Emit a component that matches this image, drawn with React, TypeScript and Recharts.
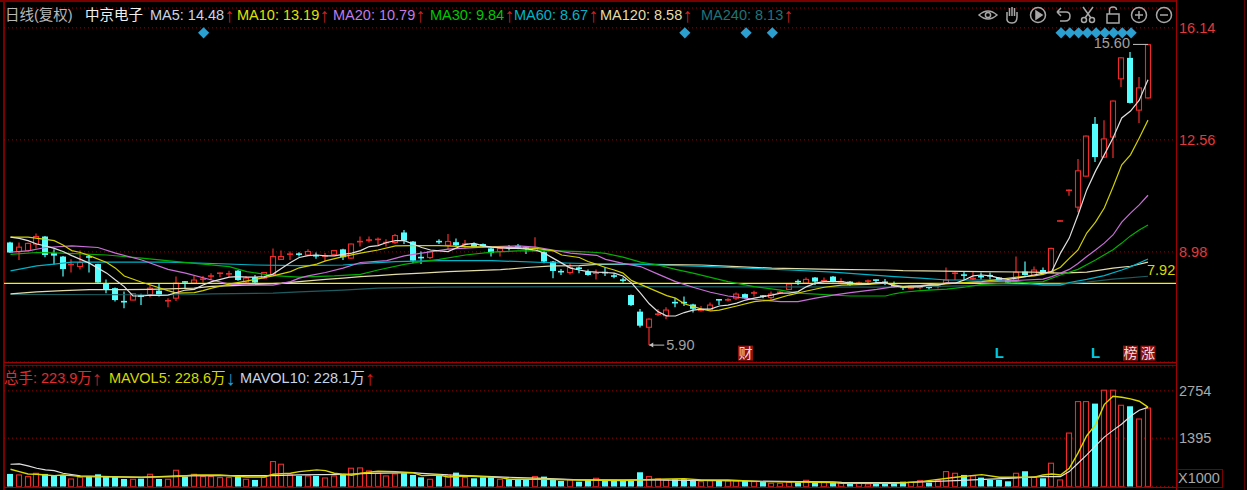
import React from 'react';
import { ComposedChart, Bar, Line, XAxis, YAxis, CartesianGrid, ReferenceLine, ReferenceDot } from 'recharts';

const opens = [9.28,8.99,9.02,9.23,9.47,8.94,8.83,8.57,8.51,8.83,
8.59,7.96,7.82,7.40,7.44,7.58,7.60,7.74,7.39,7.50,
8.03,7.98,8.10,8.20,8.29,8.27,8.38,8.02,8.17,8.14,
8.26,8.74,8.90,8.92,8.88,8.87,8.84,8.90,9.06,8.78,
9.30,9.35,9.37,9.27,9.28,9.60,9.31,8.81,8.80,9.32,
9.19,9.29,9.22,9.23,9.23,9.09,8.99,9.13,9.16,9.11,
9.02,8.97,8.67,8.36,8.32,8.47,8.35,8.29,8.33,8.22,
8.09,7.60,7.07,6.57,6.98,6.94,7.37,7.37,7.30,7.11,
7.12,7.46,7.42,7.50,7.63,7.64,7.58,7.52,7.68,7.78,
8.04,7.98,8.16,8.05,8.19,8.02,8.03,7.97,8.04,8.09,
8.02,7.92,7.86,7.82,7.84,7.86,7.85,7.98,8.29,8.25,
8.12,8.20,8.23,8.16,8.08,8.08,8.35,8.24,8.40,8.30,
9.96,10.94,10.41,11.40,13.07,12.01,12.65,14.51,15.18,13.51,13.90];
const closes = [8.96,9.13,9.25,9.47,8.88,8.86,8.43,8.59,8.64,8.81,
8.00,7.78,7.44,7.38,7.64,7.56,7.82,7.60,7.43,7.98,
7.98,8.08,8.12,8.22,8.31,8.29,8.08,8.14,8.00,8.32,
8.83,8.83,8.92,8.90,8.99,8.85,8.86,9.02,8.81,9.23,
9.32,9.37,9.39,9.29,9.50,9.34,8.70,8.79,8.99,9.30,
9.31,9.19,9.24,9.13,9.15,8.94,9.09,9.11,9.14,9.09,
9.09,8.67,8.37,8.34,8.48,8.45,8.24,8.31,8.31,8.20,
8.07,7.28,6.62,6.83,7.00,7.12,7.35,7.35,7.16,7.13,
7.28,7.44,7.46,7.63,7.50,7.68,7.56,7.63,7.70,7.95,
8.02,8.10,8.03,8.07,8.03,8.04,7.92,7.99,8.06,8.07,
8.00,7.85,7.84,7.89,7.86,7.82,7.89,8.08,8.31,8.23,
8.14,8.18,8.21,8.08,8.00,8.33,8.24,8.40,8.30,9.09,
9.98,10.96,11.57,12.68,12.01,12.59,13.80,15.18,13.74,14.22,15.60];
const highs = [9.30,9.28,9.27,9.57,9.49,9.06,8.85,8.74,9.02,8.88,
8.60,8.10,7.84,7.71,7.65,7.64,7.92,7.98,7.50,8.19,
8.05,8.21,8.21,8.30,8.32,8.38,8.40,8.21,8.24,8.34,
9.09,9.02,8.99,8.97,9.06,8.96,8.94,9.04,9.08,9.25,
9.47,9.47,9.44,9.38,9.55,9.68,9.33,8.99,9.01,9.38,
9.55,9.41,9.36,9.28,9.25,9.11,9.11,9.20,9.23,9.15,
9.45,9.02,8.69,8.43,8.62,8.51,8.42,8.42,8.49,8.30,
8.16,7.62,7.15,6.86,7.15,7.21,7.50,7.55,7.32,7.25,
7.36,7.47,7.50,7.68,7.65,7.74,7.60,7.71,7.73,7.97,
8.10,8.16,8.18,8.16,8.21,8.14,8.05,8.03,8.10,8.10,
8.11,8.03,7.89,7.91,7.92,7.89,7.94,8.48,8.35,8.35,
8.35,8.32,8.32,8.18,8.10,8.83,8.67,8.51,8.48,9.11,
9.99,10.97,11.95,12.70,13.29,13.19,13.82,15.20,15.37,14.57,15.62];
const lows = [8.94,8.72,9.00,9.09,8.81,8.58,8.19,8.32,8.42,8.32,
7.99,7.66,7.39,7.18,7.43,7.28,7.53,7.55,7.21,7.41,
7.82,7.96,8.00,8.08,8.17,8.17,8.06,7.96,7.98,8.12,
8.24,8.72,8.72,8.83,8.86,8.76,8.67,8.88,8.72,8.76,
9.15,9.28,9.20,9.15,9.23,9.23,8.62,8.59,8.74,9.23,
9.06,9.17,9.09,9.11,9.13,8.83,8.83,9.02,9.06,8.91,
9.00,8.62,8.14,8.24,8.26,8.30,8.22,8.10,8.21,8.14,
8.00,7.25,6.56,6.00,6.93,6.83,7.21,7.25,7.04,7.07,
7.09,7.28,7.39,7.44,7.48,7.55,7.50,7.44,7.63,7.76,
7.92,7.96,7.92,8.01,8.01,7.98,7.90,7.92,7.92,7.98,
7.92,7.83,7.76,7.80,7.78,7.78,7.81,7.96,8.08,8.08,
8.08,8.10,8.10,8.06,7.98,8.06,8.22,8.22,8.28,8.28,
9.95,10.77,10.25,11.38,11.85,11.99,11.98,14.25,13.72,13.10,13.88];
const volumes = [366,337,289,385,366,308,318,221,270,289,
356,289,289,221,212,231,356,221,212,472,
289,356,289,289,260,260,299,212,193,270,
722,645,337,308,308,308,250,308,366,530,
539,453,385,308,366,385,337,270,212,337,
337,404,260,241,270,270,212,212,212,212,
289,289,212,164,193,144,193,241,193,193,
164,164,414,289,221,193,212,212,173,144,
173,173,164,164,164,144,144,96,96,125,
125,183,125,125,135,116,116,96,77,96,
96,116,144,125,173,116,173,433,385,337,
308,260,193,193,154,385,443,270,241,674,
193,1541,2446,2446,2388,2773,2773,2340,2311,1945,2260];

const ma5 = [9.45,9.41,9.34,9.23,9.17,9.09,8.99,8.86,8.74,8.62,
8.46,8.30,8.08,7.87,7.57,7.57,7.60,7.59,7.60,7.68,
7.76,7.78,7.92,8.03,8.10,8.17,8.19,8.17,8.17,8.19,
8.27,8.46,8.64,8.80,8.86,8.88,8.85,8.85,8.90,8.94,
9.02,9.15,9.18,9.28,9.34,9.34,9.23,9.12,9.04,9.01,
8.99,9.11,9.22,9.25,9.17,9.13,9.11,9.09,9.09,9.07,
9.04,8.94,8.78,8.62,8.46,8.40,8.35,8.33,8.32,8.30,
8.21,7.98,7.66,7.32,7.07,6.93,6.93,7.04,7.12,7.15,
7.15,7.25,7.28,7.34,7.44,7.50,7.55,7.60,7.66,7.66,
7.71,7.87,7.98,8.03,8.03,8.03,7.98,7.95,7.95,8.00,
8.00,7.89,7.85,7.85,7.87,7.92,7.92,7.98,7.98,8.08,
8.21,8.24,8.21,8.14,8.10,8.14,8.19,8.24,8.30,8.35,
8.94,9.42,10.16,10.96,11.56,12.08,12.62,13.26,13.48,13.83,14.48];
type P = [number, number];
const ma10: P[] = [[0,9.45],[2,9.45],[4,9.38],[5,9.34],[6,9.20],[7,9.02],[8,8.96],[9,8.86],[11,8.64],[12,8.46],[13,8.21],[15,8.01],[16,7.92],[18,7.74],[19,7.66],[21,7.68],[22,7.74],[23,7.82],[25,7.95],[28,8.10],[30,8.21],[32,8.35],[33,8.47],[35,8.59],[36,8.69],[38,8.83],[40,8.94],[42,9.04],[44,9.17],[46,9.18],[49,9.18],[52,9.15],[56,9.13],[60,9.09],[62,9.02],[63,8.88],[65,8.80],[66,8.67],[67,8.58],[68,8.48],[69,8.40],[70,8.30],[71,8.06],[73,7.82],[75,7.58],[76,7.50],[77,7.32],[79,7.15],[80,7.09],[81,7.12],[83,7.25],[85,7.39],[87,7.44],[89,7.60],[91,7.73],[93,7.85],[95,7.92],[98,7.94],[100,7.98],[102,7.87],[105,7.92],[108,7.98],[111,8.03],[113,8.10],[115,8.17],[117,8.21],[118,8.26],[119,8.35],[120,8.49],[121,8.77],[122,9.04],[123,9.58],[124,9.93],[125,10.38],[126,11.05],[127,11.76],[128,12.08],[129,12.62],[130,13.19]];
const ma20: P[] = [[0,8.97],[2,9.01],[4,9.12],[7,9.17],[10,9.12],[12,8.94],[15,8.72],[18,8.42],[20,8.30],[23,8.08],[25,7.95],[27,7.92],[30,7.92],[32,8.03],[33,8.14],[34,8.21],[36,8.32],[38,8.46],[40,8.64],[43,8.70],[45,8.85],[47,8.94],[50,9.07],[54,9.13],[58,9.17],[60,9.13],[62,9.04],[64,8.94],[67,8.87],[68,8.74],[70,8.61],[72,8.51],[74,8.27],[76,8.03],[78,7.85],[80,7.69],[82,7.57],[85,7.46],[88,7.39],[90,7.39],[92,7.50],[94,7.60],[96,7.68],[99,7.78],[101,7.87],[104,7.90],[107,7.98],[111,8.01],[116,8.08],[118,8.11],[119,8.19],[120,8.30],[121,8.42],[122,8.61],[123,8.83],[124,9.04],[125,9.26],[126,9.52],[127,9.93],[128,10.22],[129,10.48],[130,10.79]];
const ma30: P[] = [[0,8.90],[3,8.96],[6,8.94],[11,8.88],[15,8.78],[19,8.67],[22,8.59],[25,8.51],[27,8.35],[30,8.22],[33,8.17],[37,8.21],[40,8.26],[42,8.40],[45,8.58],[47,8.67],[49,8.74],[52,8.88],[55,8.97],[58,9.01],[62,9.02],[65,8.99],[67,8.96],[68,8.93],[70,8.81],[72,8.65],[74,8.56],[76,8.42],[78,8.30],[82,8.03],[85,7.87],[88,7.76],[90,7.66],[96,7.57],[100,7.57],[101,7.64],[102,7.69],[104,7.74],[107,7.79],[109,7.85],[111,7.94],[114,7.98],[118,8.03],[120,8.24],[122,8.42],[124,8.72],[126,9.05],[127,9.26],[128,9.49],[129,9.68],[130,9.84]];
const ma60: P[] = [[0,8.37],[3,8.53],[5,8.59],[7,8.65],[11,8.65],[18,8.65],[24,8.60],[28,8.56],[33,8.54],[38,8.56],[41,8.62],[44,8.67],[49,8.70],[55,8.70],[61,8.64],[67,8.60],[72,8.58],[80,8.51],[84,8.46],[89,8.40],[94,8.33],[101,8.19],[104,8.14],[107,8.08],[112,8.08],[115,8.03],[118,7.92],[120,7.92],[121,8.00],[123,8.10],[125,8.22],[127,8.40],[128,8.50],[130,8.75]];
const ma120: P[] = [[0,7.64],[3,7.70],[6,7.74],[9,7.77],[13,7.77],[16,7.78],[21,7.82],[23,7.88],[27,7.92],[31,7.98],[33,8.03],[36,8.10],[38,8.14],[40,8.19],[42,8.22],[44,8.26],[47,8.30],[50,8.35],[53,8.38],[56,8.41],[59,8.48],[62,8.53],[65,8.54],[67,8.58],[73,8.58],[79,8.56],[83,8.51],[87,8.46],[94,8.42],[100,8.40],[102,8.38],[111,8.35],[117,8.33],[120,8.30],[123,8.33],[126,8.46],[128,8.52],[130,8.65]];
const ma240: P[] = [[0,7.62],[13,7.61],[20,7.61],[23,7.64],[30,7.66],[33,7.70],[38,7.76],[42,7.82],[49,7.85],[67,7.87],[101,7.85],[120,7.95],[123,8.01],[126,8.11],[130,8.20]];
const mavol5: P[] = [[0,501],[1,433],[2,366],[3,356],[4,337],[5,318],[6,337],[7,318],[8,289],[15,270],[19,289],[21,337],[24,337],[27,279],[29,279],[30,356],[32,385],[33,433],[35,482],[36,462],[37,385],[39,327],[40,385],[42,443],[44,433],[46,404],[47,318],[49,337],[50,279],[52,308],[56,260],[57,212],[61,212],[65,193],[70,173],[74,212],[77,231],[79,193],[82,193],[86,144],[94,116],[95,96],[101,96],[104,144],[108,270],[111,347],[113,270],[117,270],[118,337],[119,366],[120,337],[121,530],[122,963],[123,1464],[124,1782],[125,2359],[126,2600],[127,2571],[128,2523],[129,2456],[130,2286]];
const mavol10: P[] = [[0,645],[1,655],[2,597],[3,530],[4,482],[5,460],[6,385],[7,347],[8,308],[15,270],[19,308],[25,318],[30,318],[33,337],[38,356],[41,385],[46,404],[47,385],[50,337],[53,308],[58,260],[61,241],[65,193],[72,193],[81,173],[90,144],[94,135],[95,125],[102,116],[108,173],[114,241],[118,289],[120,289],[121,433],[122,674],[123,915],[124,1175],[125,1425],[126,1618],[127,1801],[128,2022],[129,2196],[130,2281]];

const markIdx = [22,77,84,87,120,121,122,123,124,125,126,127,128];
const markPrice = 15.98;
const eventLabels = [
  { i: 84, text: '财', boxed: true },
  { i: 113, text: 'L', boxed: false },
  { i: 124, text: 'L', boxed: false },
  { i: 128, text: '榜', boxed: true },
  { i: 130, text: '涨', boxed: true },
];
const priceTicks = [8.98, 12.56, 16.14];
const volTicks = [1395, 2754];
const hLine = 7.97;
const legendTop = [
  { x: 5, t: '日线(复权)', c: '#b8b8b8', a: '', ac: '' },
  { x: 85, t: '中京电子', c: '#f0f0f0', a: '', ac: '' },
  { x: 150, t: 'MA5: 14.48', c: '#c8d4e8', a: '↑', ac: '#d02020' },
  { x: 237, t: 'MA10: 13.19', c: '#e0e000', a: '↑', ac: '#d02020' },
  { x: 333, t: 'MA20: 10.79', c: '#c07ce8', a: '↑', ac: '#d02020' },
  { x: 430, t: 'MA30: 9.84', c: '#00c800', a: '↑', ac: '#d02020' },
  { x: 514, t: 'MA60: 8.67', c: '#00b4c8', a: '↑', ac: '#d02020' },
  { x: 600, t: 'MA120: 8.58', c: '#e4dca8', a: '↑', ac: '#d02020' },
  { x: 701, t: 'MA240: 8.13', c: '#1f7478', a: '↑', ac: '#d02020' },
];
const legendVol = [
  { x: 4, t: '总手: 223.9万', c: '#e02c2c', a: '↑', ac: '#d02020' },
  { x: 109, t: 'MAVOL5: 228.6万', c: '#d8d800', a: '↓', ac: '#2a9fd0' },
  { x: 240, t: 'MAVOL10: 228.1万', c: '#c8d4e8', a: '↑', ac: '#d02020' },
];

const toMap = (pts: P[]) => new Map(pts);
const m10 = toMap(ma10), m20 = toMap(ma20), m30 = toMap(ma30), m60 = toMap(ma60), m120 = toMap(ma120), m240 = toMap(ma240), mv5 = toMap(mavol5), mv10 = toMap(mavol10);
const rows = opens.map((o, i) => ({
  i, open: o, close: closes[i], high: highs[i], low: lows[i], vol: volumes[i],
  ma5: ma5[i], ma10: m10.get(i) ?? null, ma20: m20.get(i) ?? null, ma30: m30.get(i) ?? null,
  ma60: m60.get(i) ?? null, ma120: m120.get(i) ?? null, ma240: m240.get(i) ?? null,
  mv5: mv5.get(i) ?? null, mv10: mv10.get(i) ?? null,
  mark: markIdx.includes(i) ? markPrice : null,
}));

const RED = '#f02a2a';
const CYAN = '#54ffff';
const GRID = '#a00000';
const FONT = '"Liberation Sans", "Noto Sans CJK SC", sans-serif';

const Candle = (p: any) => {
  const { x, y, width, height, payload: d } = p;
  const unit = height / (d.high - d.low);
  const up = d.close >= d.open;
  const c = up ? RED : CYAN;
  const top = y + (d.high - Math.max(d.open, d.close)) * unit;
  const bot = y + (d.high - Math.min(d.open, d.close)) * unit;
  const cx = x + width / 2;
  const left = Math.round(cx - 3);
  const h = bot - top;
  return (
    <g>
      <line x1={left + 3} x2={left + 3} y1={y} y2={y + height} stroke={c} strokeWidth={1.2} />
      {h < 2 ? (
        <rect x={left} y={top - 0.4} width={6} height={1.6} fill={c} />
      ) : up ? (
        <rect x={left + 0.5} y={top} width={5} height={h} fill="#000" stroke={c} strokeWidth={1.1} />
      ) : (
        <rect x={left} y={top} width={6} height={h} fill={c} />
      )}
    </g>
  );
};
const VolBar = (p: any) => {
  const { x, y, width, height, payload: d } = p;
  const up = d.close >= d.open;
  const left = Math.round(x + width / 2 - 3);
  return up ? (
    <rect x={left + 0.5} y={y} width={5} height={height} fill="#000" stroke={RED} strokeWidth={1.1} />
  ) : (
    <rect x={left} y={y} width={6} height={height} fill={CYAN} />
  );
};
const Diamond = (p: any) => {
  if (p.value == null) return <g key={p.index} />;
  const s = 5.6;
  const cx = p.cx + 0.6;
  return <path key={p.index} d={`M${cx} ${p.cy - s}L${cx + s} ${p.cy}L${cx} ${p.cy + s}L${cx - s} ${p.cy}Z`} fill="#2a9fd0" />;
};
const axisTick = (color: string) => (p: any) => (
  <text x={p.x - 5} y={p.y + 5} fill={color} fontSize={14.5} fontFamily={FONT}>{p.payload.value}</text>
);
const EventMark = (e: { text: string; boxed: boolean }) => (p: any) => (
  <g>
    {e.boxed && <rect x={p.cx - 7.5} y={p.cy - 7} width={15} height={15} fill="#8c1212" />}
    <text x={p.cx} y={p.cy + 5.5} textAnchor="middle" fontSize={e.boxed ? 14 : 15} fontWeight={e.boxed ? 400 : 700} fontFamily={FONT} fill={e.boxed ? '#f4dcdc' : '#00c8e0'}>{e.text}</text>
  </g>
);
const HighNote = (p: any) => (
  <g>
    <line x1={p.cx - 15} x2={p.cx} y1={p.cy} y2={p.cy} stroke="#c0c0c0" />
    <text x={p.cx - 18} y={p.cy + 4} textAnchor="end" fontSize={14.5} fontFamily={FONT} fill="#a0a0a0">15.60</text>
  </g>
);
const LowNote = (p: any) => (
  <g>
    <line x1={p.cx} x2={p.cx + 15} y1={p.cy} y2={p.cy} stroke="#c0c0c0" />
    <path d={`M${p.cx} ${p.cy}l4 -2.5v5z`} fill="#c0c0c0" />
    <text x={p.cx + 17} y={p.cy + 5} fontSize={14.5} fontFamily={FONT} fill="#a0a0a0">5.90</text>
  </g>
);
const LineNote = (p: any) => (
  <text x={p.cx - 1} y={p.cy - 8} fontSize={14.5} fontFamily={FONT} fill="#d8d800">7.92</text>
);

const Ic = ({ x, children }: { x: number; children: React.ReactNode }) => (
  <g transform={`translate(${x} 15)`} fill="none" stroke="#a8a8a8" strokeWidth={1.5}>{children}</g>
);
const Toolbar = () => (
  <svg width={1247} height={30} style={{ position: 'absolute', left: 0, top: 0 }}>
    <Ic x={988}><path d="M-9 0Q0 -8 9 0Q0 8 -9 0Z" /><circle r={2.6} /></Ic>
    <Ic x={1012}><path d="M-5 2V-3M-2.5 1V-7M0 1V-8M2.5 1V-7M5 2V-3M-5 2Q-6 8 0 8Q5 8 5 2" /></Ic>
    <Ic x={1038}><circle r={7.5} /><path d="M-2 -4L4 0L-2 4Z" fill="#a8a8a8" /></Ic>
    <Ic x={1063}><path d="M-6 -3H3Q7 -3 7 1Q7 6 2 6H-3M-6 -3L-2 -7M-6 -3L-2 1" /></Ic>
    <Ic x={1088}><circle cx={-4} cy={5} r={2.5} /><circle cx={4} cy={5} r={2.5} /><path d="M-3 3L5 -8M3 3L-5 -8" /></Ic>
    <Ic x={1113}><rect x={-6} y={-1} width={12} height={9} /><path d="M-3.5 -1V-5Q-3.5 -8 0 -8Q3.5 -8 3.5 -5" /></Ic>
    <Ic x={1139}><circle r={7.5} /><path d="M-4 0H4M0 -4V4" /></Ic>
    <Ic x={1164}><circle r={7.5} /><path d="M-4 0H4" /></Ic>
  </svg>
);
const Legend = ({ items, top }: { items: typeof legendTop; top: number }) => (
  <>
    {items.map((l) => (
      <span key={l.t} style={{ position: 'absolute', left: l.x, top, color: l.c, fontSize: 14.5, lineHeight: '16px', fontFamily: FONT, whiteSpace: 'nowrap' }}>
        {l.t}<span style={{ color: l.ac, fontSize: 20, lineHeight: '16px', display: 'inline-block', width: 9, textAlign: 'center', verticalAlign: 'top', fontFamily: '"Liberation Sans"' }}>{l.a}</span>
      </span>
    ))}
  </>
);
const rule = (l: number, t: number, w: number, h: number, c: string): React.CSSProperties => ({ position: 'absolute', left: l, top: t, width: w, height: h, background: c });

export default function App() {
  const xPad = { left: 2.125, right: 23.625 };
  return (
    <div style={{ position: 'absolute', left: 0, top: 0, width: 1247, height: 490, background: '#000', overflow: 'hidden' }}>
      <div style={rule(0, 0, 1176, 2, '#7a0000')} />
      <div style={rule(3, 0, 2, 490, '#7a0000')} />
      <div style={rule(1176, 0, 1, 490, '#a00000')} />
      <div style={rule(1244, 0, 1, 490, '#5a0000')} />
      <div style={rule(4, 362, 1172, 1, '#a00000')} />
      <div style={rule(4, 365, 1172, 1, '#7a0000')} />
      <div style={rule(4, 487, 1172, 1, '#a00000')} />
      <div style={{ position: 'absolute', left: 1177, top: 469, width: 44, height: 17, border: '1px solid #7a0000', color: '#a8a8a8', fontSize: 14.5, lineHeight: '17px', fontFamily: FONT }}>X1000</div>

      <div style={{ position: 'absolute', left: 0, top: 0 }}>
        <ComposedChart width={1247} height={490} data={rows} margin={{ top: 8, right: 0, bottom: 128, left: 4 }}>
          <CartesianGrid horizontal vertical={false} stroke={GRID} strokeDasharray="1 3" />
          <XAxis dataKey="i" type="category" hide padding={xPad} />
          <YAxis orientation="right" width={71} domain={[5.46, 16.774]} ticks={priceTicks} allowDataOverflow axisLine={false} tickLine={false} tick={axisTick('#e03a3a')} interval={0} />
          <ReferenceLine y={hLine} stroke="#f4f400" strokeWidth={1.2} />
          <Bar dataKey={(d: any) => [d.low, d.high]} barSize={6} shape={Candle} isAnimationActive={false} />
          <Line dataKey="ma240" stroke="#1f5c60" strokeWidth={1.2} dot={false} connectNulls isAnimationActive={false} />
          <Line dataKey="ma120" stroke="#e4dca8" strokeWidth={1.2} dot={false} connectNulls isAnimationActive={false} />
          <Line dataKey="ma60" stroke="#00b4c8" strokeWidth={1.2} dot={false} connectNulls isAnimationActive={false} />
          <Line dataKey="ma30" stroke="#00b000" strokeWidth={1.2} dot={false} connectNulls isAnimationActive={false} />
          <Line dataKey="ma20" stroke="#c870d8" strokeWidth={1.2} dot={false} connectNulls isAnimationActive={false} />
          <Line dataKey="ma10" stroke="#d0d000" strokeWidth={1.2} dot={false} connectNulls isAnimationActive={false} />
          <Line dataKey="ma5" stroke="#e0e0e0" strokeWidth={1.2} dot={false} connectNulls isAnimationActive={false} />
          <Line dataKey="mark" stroke="none" dot={Diamond} activeDot={false} isAnimationActive={false} />
          {eventLabels.map((e) => (
            <ReferenceDot key={e.i} x={e.i} y={5.76} shape={EventMark(e)} />
          ))}
          <ReferenceDot x={130} y={15.61} shape={HighNote} />
          <ReferenceDot x={73} y={6.0} shape={LowNote} />
          <ReferenceDot x={130} y={hLine} shape={LineNote} />
        </ComposedChart>
      </div>

      <div style={{ position: 'absolute', left: 0, top: 0 }}>
        <ComposedChart width={1247} height={490} data={rows} margin={{ top: 366, right: 0, bottom: 3.33, left: 4 }}>
          <CartesianGrid horizontal vertical={false} stroke={GRID} strokeDasharray="1 3" />
          <XAxis dataKey="i" type="category" hide padding={xPad} />
          <YAxis orientation="right" width={71} domain={[0, 3469]} ticks={volTicks} allowDataOverflow axisLine={false} tickLine={false} tick={axisTick('#a8a8a8')} interval={0} />
          <Bar dataKey="vol" barSize={6} shape={VolBar} isAnimationActive={false} />
          <Line dataKey="mv10" stroke="#e0e0e0" strokeWidth={1.2} dot={false} connectNulls isAnimationActive={false} />
          <Line dataKey="mv5" stroke="#d8d800" strokeWidth={1.4} dot={false} connectNulls isAnimationActive={false} />
        </ComposedChart>
      </div>

      <Toolbar />
      <Legend items={legendTop} top={7} />
      <Legend items={legendVol} top={370} />
    </div>
  );
}
